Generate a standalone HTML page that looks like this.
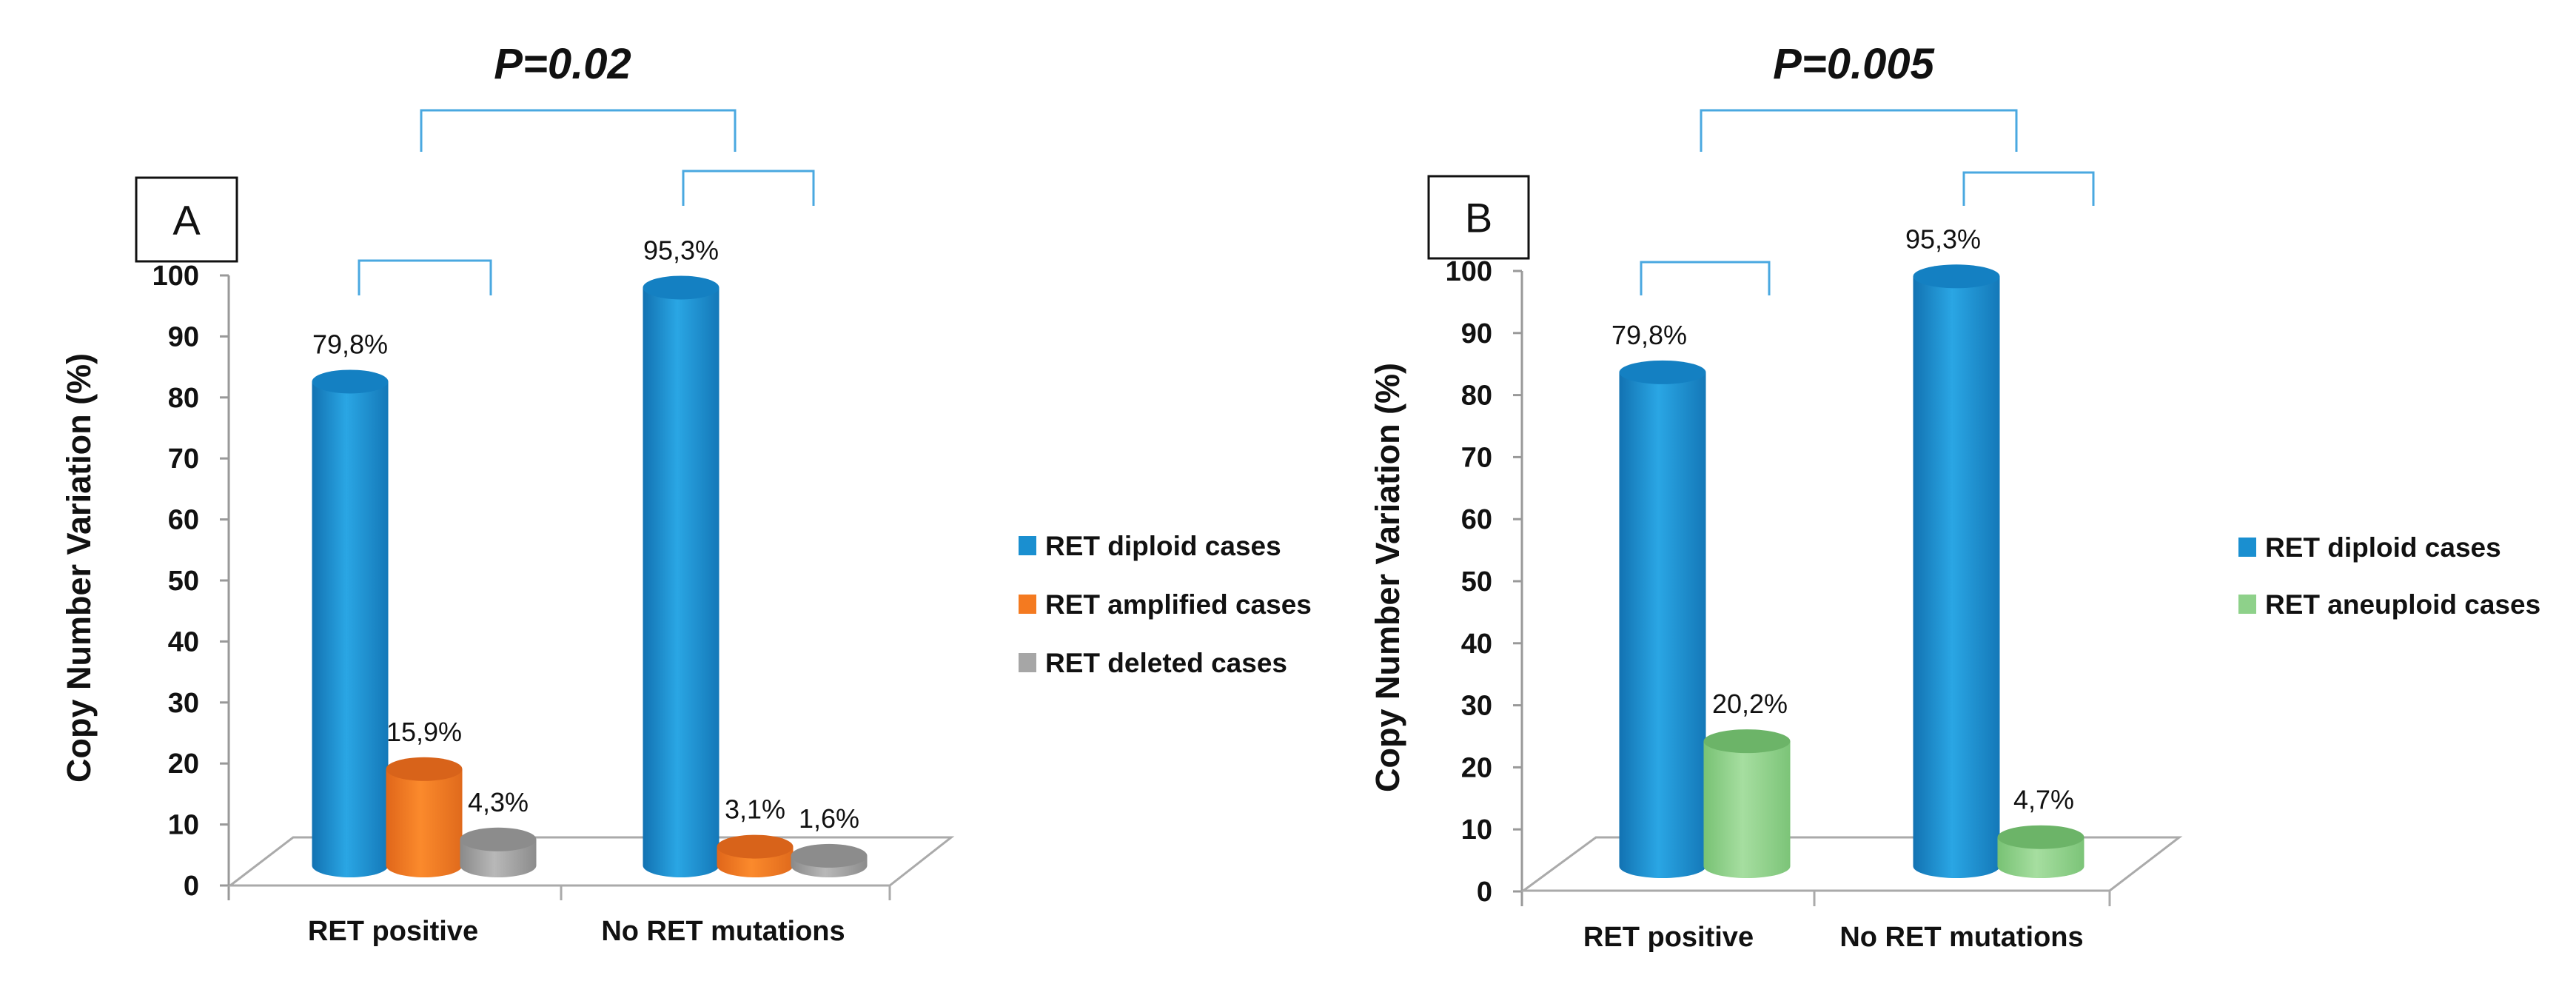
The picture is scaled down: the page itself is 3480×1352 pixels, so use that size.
<!DOCTYPE html>
<html><head><meta charset="utf-8"><style>
html,body{margin:0;padding:0;background:#fff;}
svg{display:block;font-family:"Liberation Sans",sans-serif;}
</style></head><body>
<svg id="chart" width="3480" height="1352" viewBox="0 0 3480 1352" xmlns="http://www.w3.org/2000/svg">
<defs>
<linearGradient id="gBlue" x1="0" x2="1"><stop offset="0" stop-color="#1272b2"/><stop offset="0.45" stop-color="#2aa6e4"/><stop offset="1" stop-color="#1478b8"/></linearGradient>
<linearGradient id="gOrange" x1="0" x2="1"><stop offset="0" stop-color="#e0661a"/><stop offset="0.45" stop-color="#fb8a2c"/><stop offset="1" stop-color="#e06a1c"/></linearGradient>
<linearGradient id="gGray" x1="0" x2="1"><stop offset="0" stop-color="#8a8a8a"/><stop offset="0.45" stop-color="#b8b8b8"/><stop offset="1" stop-color="#8c8c8c"/></linearGradient>
<linearGradient id="gGreen" x1="0" x2="1"><stop offset="0" stop-color="#78c274"/><stop offset="0.45" stop-color="#a6dea0"/><stop offset="1" stop-color="#7cc478"/></linearGradient>
</defs>
</svg>
<script>
// Panel A data
const categoriesA = ["RET positive", "No RET mutations"];
const seriesNamesA = ["RET diploid cases", "RET amplified cases", "RET deleted cases"];
const diploidA = [79.8, 95.3];
const amplifiedA = [15.9, 3.1];
const deletedA = [4.3, 1.6];
const labelsA = [["79,8%", "95,3%"], ["15,9%", "3,1%"], ["4,3%", "1,6%"]];
// Panel B data
const categoriesB = ["RET positive", "No RET mutations"];
const seriesNamesB = ["RET diploid cases", "RET aneuploid cases"];
const diploidB = [79.8, 95.3];
const aneuploidB = [20.2, 4.7];
const labelsB = [["79,8%", "95,3%"], ["20,2%", "4,7%"]];
const yTicks = [0, 10, 20, 30, 40, 50, 60, 70, 80, 90, 100];

const svg = document.getElementById('chart');
const NS = "http://www.w3.org/2000/svg";
function mk(tag, attrs, parent) {
  const e = document.createElementNS(NS, tag);
  for (const k in attrs) e.setAttribute(k, attrs[k]);
  (parent || svg).appendChild(e);
  return e;
}
function txt(x, y, s, size, weight, anchor, parent, extra) {
  const t = mk('text', Object.assign({x: x, y: y, 'font-size': size, 'font-weight': weight, 'text-anchor': anchor, fill: '#111'}, extra || {}), parent);
  t.textContent = s;
  return t;
}

function panel(cfg) {
  const g = mk('g', {});
  
  
  const p = txt(cfg.pX, 106, cfg.pText, 58, 'bold', 'middle', g, {'font-style': 'italic'});
  
  
  cfg.brackets.forEach(function (b, i) {
    const pl = mk('polyline', {points: b[0] + ',' + b[3] + ' ' + b[0] + ',' + b[2] + ' ' + b[1] + ',' + b[2] + ' ' + b[1] + ',' + b[3], fill: 'none', stroke: '#4aa8e0', 'stroke-width': 3}, g);
    
    
  });
  const bx = mk('rect', {x: cfg.box[0], y: cfg.box[1], width: cfg.box[2], height: cfg.box[3], fill: '#fff', stroke: '#111', 'stroke-width': 3}, g);
  
  
  const bl = txt(cfg.box[0] + cfg.box[2] / 2, cfg.box[1] + cfg.box[3] / 2 + 20, cfg.letter, 56, 'normal', 'middle', g);
  
  
  const ax = cfg.axisX, y0 = cfg.axis0, y100 = cfg.axis100;
  const yAxis = v => y0 - (y0 - y100) * v / 100;
  const al = mk('line', {x1: ax, y1: y100, x2: ax, y2: y0 + 20, stroke: '#999', 'stroke-width': 3}, g);
  
  
  yTicks.forEach(function (t) {
    const tl = mk('line', {x1: ax - 12, y1: yAxis(t), x2: ax, y2: yAxis(t), stroke: '#999', 'stroke-width': 3}, g);
    
    
    const lab = txt(ax - 40, yAxis(t) + 13, String(t), 38, 'bold', 'end', g);
    
    
  });
  const yt = txt(0, 0, 'Copy Number  Variation (%)', 45, 'bold', 'middle', g, {transform: 'translate(' + cfg.titleX + ',' + cfg.titleY + ') rotate(-90)', 'xml:space': 'preserve'});
  
  
  const f = cfg.floor;
  const fl = mk('polygon', {points: f.map(q => q.join(',')).join(' '), fill: '#fff', stroke: '#aaa', 'stroke-width': 3}, g);
  
  
  cfg.catTicks.forEach(function (x) {
    const ct = mk('line', {x1: x, y1: y0, x2: x, y2: y0 + 20, stroke: '#aaa', 'stroke-width': 3}, g);
    
    
  });
  cfg.categories.forEach(function (c, i) {
    const cl = txt(cfg.catX[i], cfg.catY, c, 38, 'bold', 'middle', g);
    
    
  });
  const yBar = v => cfg.barBase - cfg.barScale * v;
  const w = cfg.barW, ry = 16;
  cfg.series.forEach(function (vals, s) {
    vals.forEach(function (v, i) {
      const cx = cfg.groupX[i] + (s - (cfg.series.length - 1) / 2) * cfg.barStep;
      const top = yBar(v), base = yBar(0);
      const bg = mk('g', {}, g);
      
      
      mk('ellipse', {cx: cx, cy: base, rx: w / 2, ry: ry, fill: 'url(#' + cfg.grads[s] + ')'}, bg);
      mk('rect', {x: cx - w / 2, y: top, width: w, height: base - top, fill: 'url(#' + cfg.grads[s] + ')'}, bg);
      mk('ellipse', {cx: cx, cy: top, rx: w / 2, ry: ry, fill: cfg.tops[s]}, bg);
      const vl = txt(cx + cfg.labelDx[s], top - 38, cfg.labels[s][i], 36, 'normal', 'middle', g);
      
      
    });
  });
  cfg.seriesNames.forEach(function (n, s) {
    const ly = cfg.legY[s];
    const le = mk('g', {}, g);
    
    
    mk('rect', {x: cfg.legX, y: ly - 13, width: 24, height: 26, fill: cfg.legCol[s]}, le);
    txt(cfg.legX + 36, ly + 13, n, 37, 'bold', 'start', le);
  });
}

panel({
  name: 'panel-a', pText: 'P=0.02', pX: 760, letter: 'A',
  brackets: [[569, 993, 149, 205], [923, 1099, 231, 278], [485, 663, 352, 399]],
  box: [184, 240, 136, 113],
  axisX: 309, axis0: 1196, axis100: 372, titleX: 122, titleY: 767,
  floor: [[311, 1196], [396, 1131], [1285, 1131], [1202, 1196]],
  catTicks: [758, 1202], categories: categoriesA, catX: [531, 977], catY: 1270,
  series: [diploidA, amplifiedA, deletedA], seriesKeys: ['diploid', 'amplified', 'deleted'],
  labels: labelsA, seriesNames: seriesNamesA,
  grads: ['gBlue', 'gOrange', 'gGray'], tops: ['#1480c2', '#d8631a', '#8c8c8c'],
  legCol: ['#1a8fd0', '#f47a20', '#a6a6a6'],
  barBase: 1169, barScale: 8.19, barW: 103, barStep: 100, groupX: [573, 1020],
  labelDx: [0, 0, 0],
  legX: 1376, legY: [737, 816, 895]
});
panel({
  name: 'panel-b', pText: 'P=0.005', pX: 2504, letter: 'B',
  brackets: [[2298, 2724, 149, 205], [2653, 2828, 233, 278], [2217, 2390, 354, 399]],
  box: [1930, 238, 135, 111],
  axisX: 2056, axis0: 1204, axis100: 366, titleX: 1890, titleY: 780,
  floor: [[2058, 1203], [2156, 1131], [2944, 1131], [2850, 1203]],
  catTicks: [2451, 2850], categories: categoriesB, catX: [2254, 2650], catY: 1278,
  series: [diploidB, aneuploidB], seriesKeys: ['diploid', 'aneuploid'],
  labels: labelsB, seriesNames: seriesNamesB,
  grads: ['gBlue', 'gGreen'], tops: ['#1480c2', '#6cb468'],
  legCol: ['#1a8fd0', '#8ed18a'],
  barBase: 1170, barScale: 8.36, barW: 117, barStep: 114, groupX: [2303, 2700],
  labelDx: [-18, 4],
  legX: 3024, legY: [739, 816]
});
</script>
</body></html>
